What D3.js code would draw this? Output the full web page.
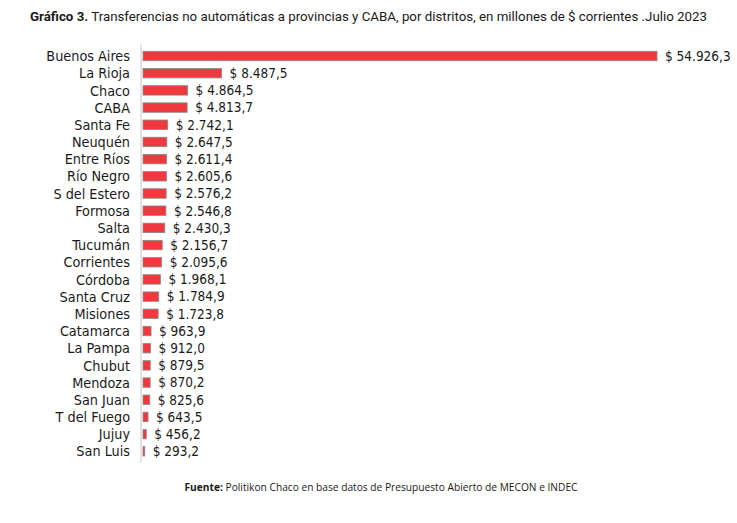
<!DOCTYPE html>
<html lang="es">
<head>
<meta charset="utf-8">
<style>
  body { margin: 0; background: #fff; }
  svg text { fill: #1a1a1a; }
</style>
</head>
<body>
<script src="https://d3js.org/d3.v7.min.js"></script>
<script>
var distritos = ["Buenos Aires", "La Rioja", "Chaco", "CABA", "Santa Fe", "Neuquén", "Entre Ríos",
  "Río Negro", "S del Estero", "Formosa", "Salta", "Tucumán", "Corrientes", "Córdoba",
  "Santa Cruz", "Misiones", "Catamarca", "La Pampa", "Chubut", "Mendoza", "San Juan",
  "T del Fuego", "Jujuy", "San Luis"];
var montos = [54926.3, 8487.5, 4864.5, 4813.7, 2742.1, 2647.5, 2611.4, 2605.6, 2576.2, 2546.8,
  2430.3, 2156.7, 2095.6, 1968.1, 1784.9, 1723.8, 963.9, 912.0, 879.5, 870.2, 825.6,
  643.5, 456.2, 293.2];

var width = 737, height = 523;
var plotLeft = 142, plotRight = 657, plotTop = 47.5, step = 17.18;
var labelFont = "'DejaVu Sans Condensed', 'Roboto', sans-serif";

var svg = d3.select("body").append("svg")
    .attr("width", width)
    .attr("height", height);

var es = d3.formatLocale({ decimal: ",", thousands: ".", grouping: [3], currency: ["$", ""] });
var fmt = es.format(",.1f");

var x = d3.scaleLinear().domain([0, d3.max(montos)]).range([plotLeft, plotRight]);
var y = d3.scaleBand().domain(distritos)
    .range([plotTop, plotTop + step * distritos.length])
    .paddingInner(0.45).paddingOuter(0.22);

// titulo
var title = svg.append("text")
    .attr("x", 30).attr("y", 21)
    .style("font-family", "'Roboto', sans-serif")
    .style("font-size", "13.3px");
title.append("tspan").style("font-weight", "bold").text("Gráfico 3.");
title.append("tspan").text(" Transferencias no automáticas a provincias y CABA, por distritos, en millones de $ corrientes .Julio 2023");

// linea de eje
svg.append("line")
    .attr("x1", plotLeft - 1).attr("x2", plotLeft - 1)
    .attr("y1", plotTop - 3).attr("y2", plotTop + step * distritos.length + 3)
    .attr("stroke", "#d0d0d0").attr("stroke-width", 1.2);

var rows = svg.selectAll("g.row")
    .data(distritos)
    .enter().append("g")
    .attr("class", "row");

rows.append("rect")
    .attr("x", plotLeft + 1)
    .attr("y", function (d) { return y(d); })
    .attr("width", function (d, i) { return x(montos[i]) - plotLeft - 1; })
    .attr("height", y.bandwidth())
    .attr("fill", "#f0393f")
    .attr("stroke", "#8a8a8a")
    .attr("stroke-width", 0.8);

rows.append("text")
    .attr("x", 130)
    .attr("y", function (d) { return y(d) + y.bandwidth() / 2; })
    .attr("dy", "0.36em")
    .attr("text-anchor", "end")
    .style("font-family", labelFont)
    .style("font-size", "14.3px")
    .text(function (d) { return d; });

rows.append("text")
    .attr("x", function (d, i) { return x(montos[i]) + 8; })
    .attr("y", function (d) { return y(d) + y.bandwidth() / 2; })
    .attr("dy", "0.36em")
    .style("font-family", labelFont)
    .style("font-size", "13.5px")
    .text(function (d, i) { return "$ " + fmt(montos[i]); });

// fuente
var fuente = svg.append("text")
    .attr("x", 381).attr("y", 491)
    .attr("text-anchor", "middle")
    .style("font-family", "'Open Sans', sans-serif")
    .style("font-size", "10.2px");
fuente.append("tspan").style("font-weight", "bold").text("Fuente:");
fuente.append("tspan").text(" Politikon Chaco en base datos de Presupuesto Abierto de MECON e INDEC");
</script>
</body>
</html>
